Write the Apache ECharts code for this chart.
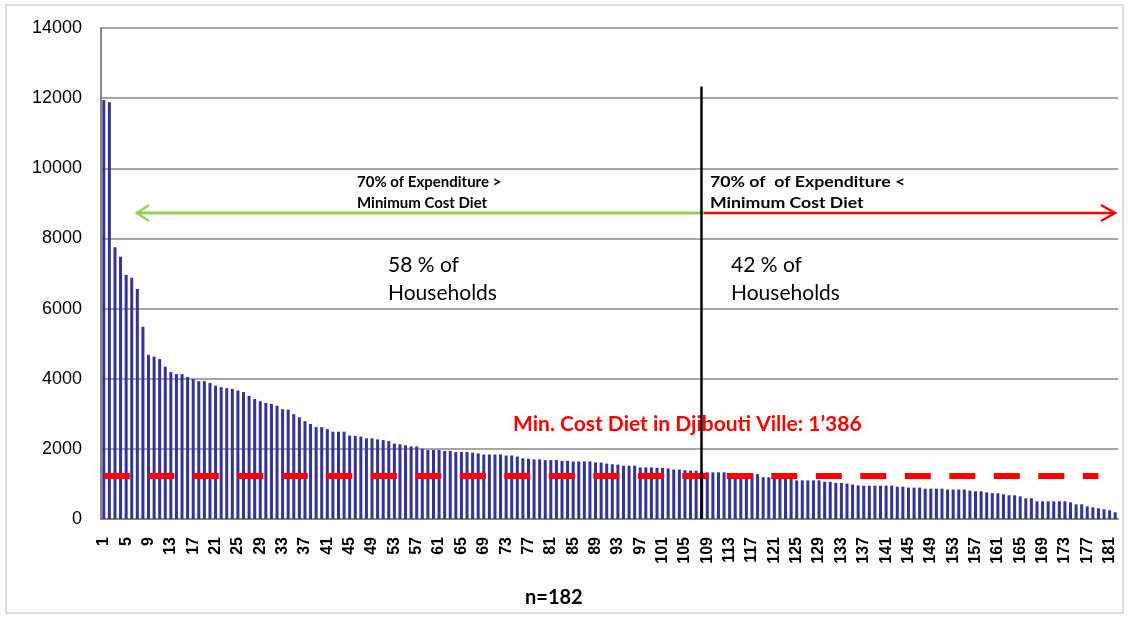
<!DOCTYPE html>
<html>
<head>
<meta charset="utf-8">
<script src="https://cdn.jsdelivr.net/npm/echarts@6/dist/echarts.min.js"></script>
<style>
  html, body { margin: 0; padding: 0; background: #fff; }
  #chart { width: 1128px; height: 619px; }
</style>
</head>
<body>
<div id="chart"></div>
<script>
  // monthly expenditure per household, sorted high -> low (n=182)
  const expenditure = [
    11950, 11880, 7750, 7480, 6960, 6880, 6560, 5480, 4680, 4630,
    4560, 4340, 4190, 4130, 4130, 4050, 3990, 3930, 3930, 3880,
    3800, 3760, 3730, 3710, 3660, 3620, 3510, 3420, 3360, 3310,
    3280, 3230, 3130, 3120, 2990, 2900, 2790, 2710, 2620, 2620,
    2560, 2490, 2490, 2490, 2380, 2370, 2350, 2300, 2300, 2270,
    2250, 2220, 2150, 2130, 2100, 2070, 2070, 2000, 1970, 1970,
    1970, 1940, 1940, 1910, 1910, 1910, 1890, 1870, 1840, 1840,
    1840, 1840, 1810, 1810, 1780, 1730, 1720, 1700, 1700, 1680,
    1680, 1680, 1660, 1660, 1640, 1640, 1640, 1640, 1610, 1610,
    1580, 1560, 1550, 1520, 1520, 1520, 1470, 1470, 1470, 1460,
    1460, 1440, 1410, 1410, 1390, 1380, 1380, 1350, 1330, 1330,
    1330, 1330, 1300, 1300, 1300, 1300, 1300, 1280, 1190, 1190,
    1160, 1160, 1160, 1160, 1100, 1100, 1100, 1100, 1100, 1060,
    1060, 1030, 1030, 1010, 980, 955, 950, 950, 950, 950,
    950, 950, 920, 920, 895, 895, 895, 865, 865, 865,
    865, 840, 840, 840, 840, 810, 790, 790, 760, 735,
    733, 704, 676, 676, 647, 590, 590, 505, 505, 505,
    505, 505, 505, 476, 419, 419, 362, 333, 305, 276,
    248, 190
  ]
  const households = expenditure.map((v, i) => String(i + 1))
  const yTicks = [0, 2000, 4000, 6000, 8000, 10000, 12000, 14000]
  const costLine = 1240   // where the dashed line sits in the picture
  const splitAt = '108'   // household where 70% of expenditure crosses the diet cost
  const splitTop = 12330

  const chart = echarts.init(document.getElementById('chart'))

  const calibri = 'Lato, "Open Sans", sans-serif'

  chart.setOption({
    animation: false,
    grid: {
      left: 101,
      right: 10,
      top: 28,
      bottom: 100
    },
    xAxis: {
      type: 'category',
      data: households,
      axisLine: { lineStyle: { color: '#888', width: 2 } },
      axisTick: { show: false },
      axisLabel: {
        interval: 3,
        rotate: 90,
        margin: 18,
        color: '#000',
        fontSize: 16,
        fontWeight: 'bold',
        fontFamily: '"Liberation Sans", Arial, sans-serif'
      }
    },
    yAxis: {
      type: 'value',
      min: yTicks[0],
      max: yTicks[yTicks.length - 1],
      interval: 2000,
      axisLine: { show: true, lineStyle: { color: '#888', width: 2 } },
      axisTick: { show: false },
      axisLabel: {
        margin: 19,
        color: '#000',
        fontSize: 18,
        fontFamily: '"Liberation Sans", Arial, sans-serif',
        formatter: v => String(v)
      },
      splitLine: { lineStyle: { color: '#888', width: 1.5 } }
    },
    series: [{
      name: 'expenditure',
      type: 'bar',
      data: expenditure,
      barWidth: 3,
      itemStyle: { color: '#333399' },
      markLine: {
        silent: true,
        symbol: 'none',
        label: { show: false },
        data: [
          [
            { coord: ['1', costLine], lineStyle: { color: '#ff0000', width: 6, type: [26, 18.5] } },
            { coord: ['179', costLine] }
          ],
          [
            { coord: [splitAt, 0], lineStyle: { color: '#000', width: 2.5, type: 'solid' } },
            { coord: [splitAt, splitTop] }
          ]
        ]
      }
    }],
    graphic: [
      // outer frame
      {
        type: 'rect',
        shape: { x: 6, y: 5, width: 1117, height: 608 },
        style: { fill: 'none', stroke: '#dcdcdc', lineWidth: 2 },
        z: -1
      },
      // arrows
      {
        type: 'line',
        shape: { x1: 136, y1: 213, x2: 704, y2: 213 },
        style: { stroke: '#92d050', lineWidth: 3 }
      },
      {
        type: 'polyline',
        shape: { points: [[149, 205], [137, 213], [149, 221]] },
        style: { stroke: '#92d050', lineWidth: 2.5, fill: 'none' }
      },
      {
        type: 'line',
        shape: { x1: 704, y1: 213, x2: 1115, y2: 213 },
        style: { stroke: '#ff0000', lineWidth: 2.5 }
      },
      {
        type: 'polyline',
        shape: { points: [[1101, 205], [1115, 213], [1101, 221]] },
        style: { stroke: '#ff0000', lineWidth: 2.5, fill: 'none' }
      },
      // annotations
      {
        type: 'text', left: 357, top: 175,
        style: { text: '70% of Expenditure >', font: 'bold 15px ' + calibri, fill: '#000' }
      },
      {
        type: 'text', left: 357, top: 196,
        style: { text: 'Minimum Cost Diet', font: 'bold 15px ' + calibri, fill: '#000' }
      },
      {
        type: 'text', x: 710, y: 175, scaleX: 1.18,
        style: { text: '70% of  of Expenditure <', font: 'bold 15px ' + calibri, fill: '#000' }
      },
      {
        type: 'text', x: 710, y: 196, scaleX: 1.18,
        style: { text: 'Minimum Cost Diet', font: 'bold 15px ' + calibri, fill: '#000' }
      },
      {
        type: 'text', left: 388, top: 255,
        style: { text: '58 % of', font: '21px ' + calibri, fill: '#000' }
      },
      {
        type: 'text', left: 388, top: 283,
        style: { text: 'Households', font: '21px ' + calibri, fill: '#000' }
      },
      {
        type: 'text', left: 731, top: 255,
        style: { text: '42 % of', font: '21px ' + calibri, fill: '#000' }
      },
      {
        type: 'text', left: 731, top: 283,
        style: { text: 'Households', font: '21px ' + calibri, fill: '#000' }
      },
      {
        type: 'text', left: 513, top: 414,
        style: { text: 'Min. Cost Diet in Djibouti Ville: 1’386', font: 'bold 21px ' + calibri, fill: '#ff0000' }
      },
      {
        type: 'text', left: 525, top: 588,
        style: { text: 'n=182', font: 'bold 20px ' + calibri, fill: '#000' }
      }
    ]
  })
</script>
</body>
</html>
